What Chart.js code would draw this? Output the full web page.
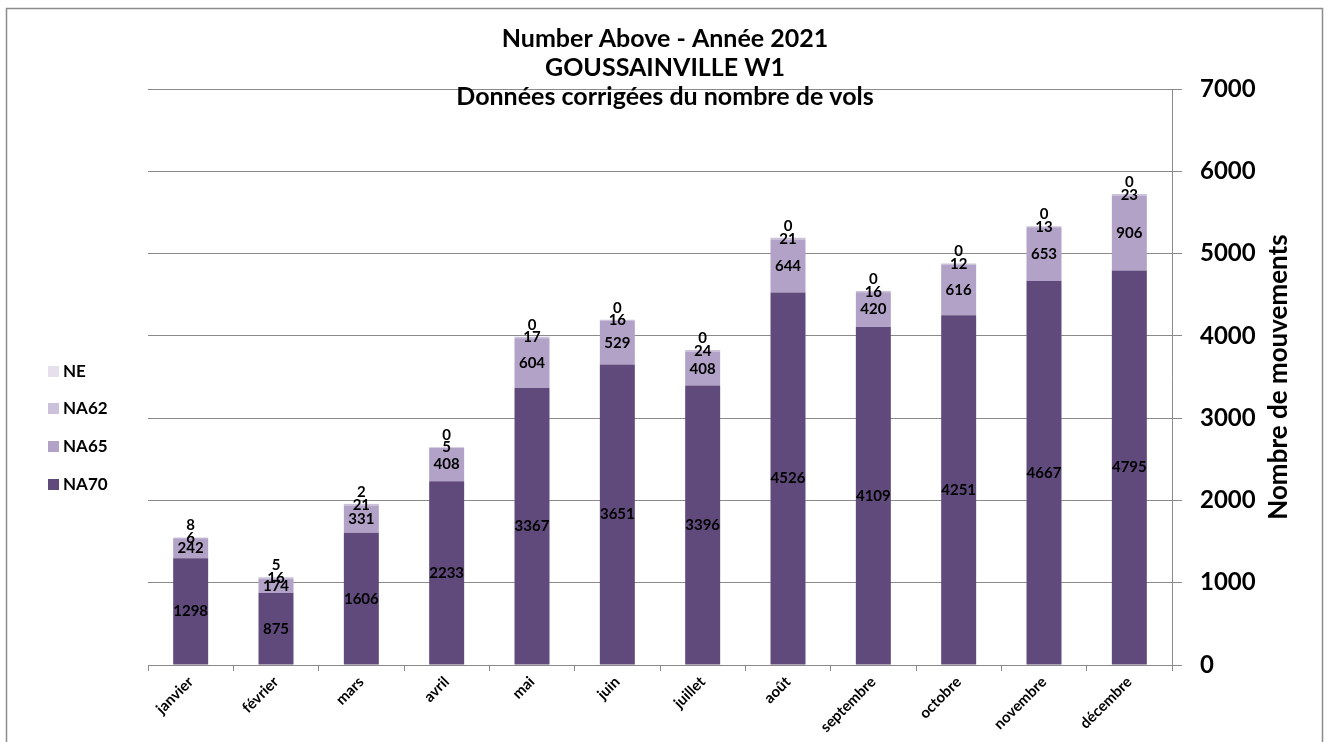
<!DOCTYPE html>
<html>
<head>
<meta charset="utf-8">
<title>Number Above - Année 2021</title>
<script src="https://cdn.jsdelivr.net/npm/chart.js@4/dist/chart.umd.min.js"></script>
<style>
    html, body { margin: 0; padding: 0; background: #fff; }
    #wrap { position: relative; width: 1331px; height: 742px; }
</style>
</head>
<body>
<div id="wrap"><canvas id="chart" width="1331" height="742"></canvas></div>
<script>
// data
var months = ["janvier", "février", "mars", "avril", "mai", "juin", "juillet", "août", "septembre", "octobre", "novembre", "décembre"];
var na70 = [1298, 875, 1606, 2233, 3367, 3651, 3396, 4526, 4109, 4251, 4667, 4795];
var na65 = [242, 174, 331, 408, 604, 529, 408, 644, 420, 616, 653, 906];
var na62 = [6, 16, 21, 5, 17, 16, 24, 21, 16, 12, 13, 23];
var ne = [8, 5, 2, 0, 0, 0, 0, 0, 0, 0, 0, 0];
var yTicks = [0, 1000, 2000, 3000, 4000, 5000, 6000, 7000];

var titleLines = ["Number Above - Année 2021", "GOUSSAINVILLE W1", "Données corrigées du nombre de vols"];
var yTitle = "Nombre de mouvements";

var FONT = "Lato, 'Open Sans', sans-serif";
var GRID = '#8a8a8a';

// frame, title, axis title and legend drawn by hand
var decorations = {
    id: 'decorations',
    beforeDraw: function (chart) {
        var ctx = chart.ctx;
        ctx.save();
        ctx.strokeStyle = '#8c8c8c';
        ctx.lineWidth = 1.5;
        ctx.strokeRect(6.5, 8.5, 1316, 760);
        ctx.restore();
    },
    afterDraw: function (chart) {
        var ctx = chart.ctx;
        ctx.save();
        ctx.fillStyle = '#000';
        ctx.textAlign = 'center';
        ctx.textBaseline = 'alphabetic';
        ctx.font = 'bold 25px ' + FONT;
        var base = [47, 76, 105];
        titleLines.forEach(function (t, i) {
            ctx.fillText(t, 665, base[i]);
        });

        // y axis title, read bottom to top
        ctx.save();
        ctx.translate(1279, (chart.chartArea.top + chart.chartArea.bottom) / 2);
        ctx.rotate(-Math.PI / 2);
        ctx.textBaseline = 'middle';
        ctx.font = 'bold 26px ' + FONT;
        ctx.fillText(yTitle, 0, 0);
        ctx.restore();

        // legend, top item is the last dataset
        var rows = [371, 408, 446, 484];
        var sets = chart.data.datasets.slice().reverse();
        ctx.textAlign = 'left';
        ctx.textBaseline = 'middle';
        ctx.font = 'bold 17px ' + FONT;
        sets.forEach(function (ds, i) {
            ctx.fillStyle = ds.backgroundColor;
            ctx.fillRect(48, rows[i] - 5, 11, 11);
            ctx.fillStyle = '#000';
            ctx.fillText(ds.label, 63, rows[i] + 1);
        });
        ctx.restore();
    }
};

// value labels on the bars
var barLabels = {
    id: 'barLabels',
    afterDatasetsDraw: function (chart) {
        var ctx = chart.ctx;
        ctx.save();
        ctx.fillStyle = '#000';
        ctx.textAlign = 'center';
        ctx.textBaseline = 'middle';
        ctx.font = 'bold 15px ' + FONT;
        chart.data.datasets.forEach(function (ds, di) {
            var meta = chart.getDatasetMeta(di);
            meta.data.forEach(function (bar, i) {
                var p = bar.getProps(['x', 'y', 'base'], true);
                var y = (p.y + p.base) / 2;
                if (ds.label === 'NE') y = p.y - 12;
                ctx.fillText(String(ds.data[i]), p.x, y);
            });
        });
        ctx.restore();
    }
};

var ctx = document.getElementById('chart').getContext('2d');

var chart = new Chart(ctx, {
    type: 'bar',
    data: {
        labels: months,
        datasets: [
            { label: 'NA70', data: na70, backgroundColor: '#604a7b' },
            { label: 'NA65', data: na65, backgroundColor: '#b3a2c7' },
            { label: 'NA62', data: na62, backgroundColor: '#ccc1da' },
            { label: 'NE', data: ne, backgroundColor: '#e6e0ec' }
        ]
    },
    options: {
        responsive: false,
        animation: false,
        devicePixelRatio: 1,
        layout: { padding: { left: 148, top: 89, right: 0, bottom: 0 } },
        datasets: {
            bar: { categoryPercentage: 1, barPercentage: 0.41 }
        },
        plugins: {
            legend: { display: false },
            title: { display: false },
            tooltip: { enabled: false }
        },
        scales: {
            x: {
                stacked: true,
                offset: true,
                grid: {
                    offset: true,
                    drawOnChartArea: false,
                    drawTicks: true,
                    tickLength: 6,
                    color: GRID
                },
                border: { color: GRID, width: 1 },
                ticks: {
                    autoSkip: false,
                    maxRotation: 45,
                    minRotation: 45,
                    padding: 2,
                    color: '#000',
                    font: { family: FONT, size: 15, weight: 'bold' }
                },
                afterFit: function (scale) { scale.height = 742 - 665; }
            },
            y: {
                stacked: true,
                position: 'right',
                min: 0,
                max: 7000,
                afterBuildTicks: function (scale) {
                    scale.ticks = yTicks.map(function (v) { return { value: v }; });
                },
                grid: {
                    color: GRID,
                    tickLength: 10,
                    lineWidth: 1
                },
                border: { color: GRID, width: 1 },
                ticks: {
                    padding: 18,
                    color: '#000',
                    font: { family: FONT, size: 24, weight: 'bold' },
                    callback: function (v) { return String(v); }
                },
                afterFit: function (scale) { scale.width = 1331 - 1172; }
            }
        }
    },
    plugins: [decorations, barLabels]
});
</script>
</body>
</html>
